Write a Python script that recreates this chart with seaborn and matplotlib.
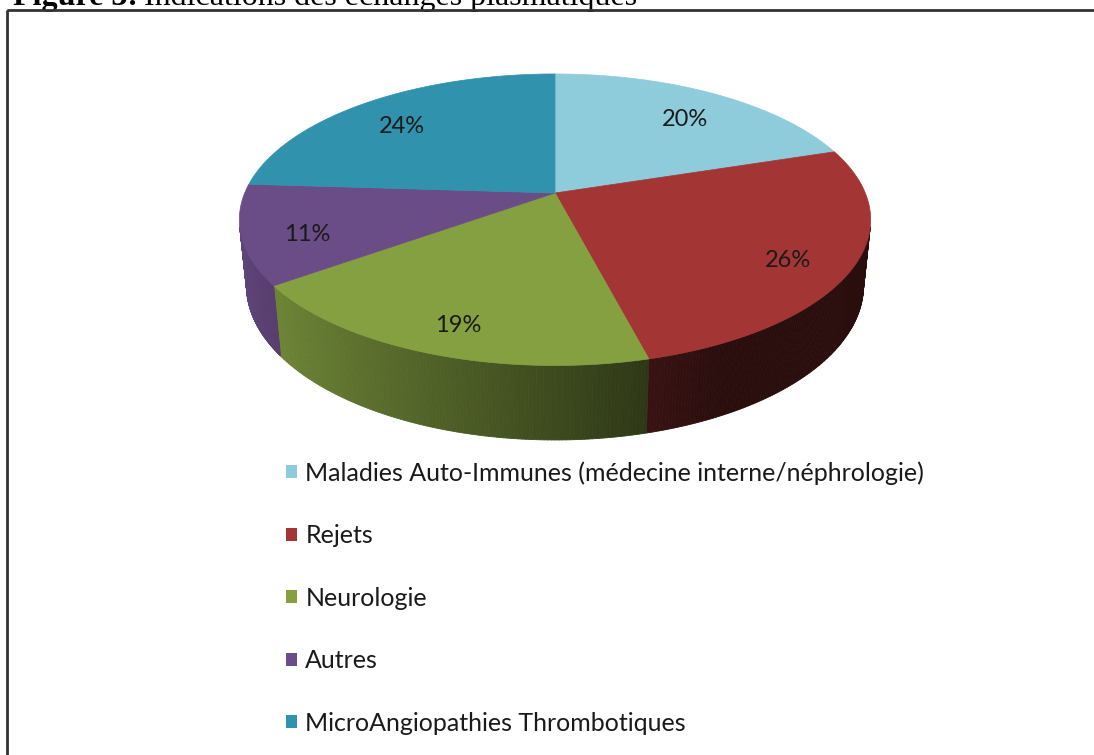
import numpy as np
import seaborn as sns
import matplotlib
matplotlib.use('Agg')
import matplotlib.pyplot as plt
from matplotlib.patches import Patch, Rectangle
from matplotlib.collections import PolyCollection
from matplotlib.colors import to_rgb

# Données du graphique
categories = ['Maladies Auto-Immunes (médecine interne/néphrologie)',
              'Rejets', 'Neurologie', 'Autres',
              'MicroAngiopathies Thrombotiques']
valeurs = [20, 26, 19, 11, 24]
etiquettes = ['20%', '26%', '19%', '11%', '24%']
couleurs = ['#8ecbdb', '#a33535', '#84a041', '#6a4c86', '#3092ac']

sns.set_theme(style="white")
plt.rcParams['font.family'] = ['Lato', 'DejaVu Sans']

fig = plt.figure(figsize=(10.94, 7.55), dpi=100)
ax = fig.add_axes([0, 0, 1, 1])
ax.set_xlim(0, 1094)
ax.set_ylim(755, 0)
ax.axis('off')

# Projection en perspective du camembert 3D
alpha = np.radians(27)
dist = 4.86
foc = 1508
epaisseur = 0.24
cx, cy = 555, 193


def projeter(X, Y, Z):
    v = Y * np.sin(alpha) + Z * np.cos(alpha)
    w = Y * np.cos(alpha) - Z * np.sin(alpha) + dist
    return cx + X * foc / w, cy - v * foc / w


fractions = np.array(valeurs) / np.sum(valeurs)
bornes = 90 - 360 * np.concatenate([[0], np.cumsum(fractions)])

# partie visible du bord : sin(theta) < -1/(dist*cos(alpha))
lim = np.degrees(np.arcsin(1 / (dist * np.cos(alpha))))
vis_min, vis_max = -180 + lim, -lim

# Faces latérales
polys, cols = [], []
for i in range(len(valeurs)):
    debut, fin = bornes[i], bornes[i + 1]
    hi, lo = min(debut, vis_max), max(fin, vis_min)
    if hi <= lo:
        continue
    th = np.radians(np.linspace(hi, lo, 120))
    base = np.array(to_rgb(couleurs[i]))
    for k in range(len(th) - 1):
        a, b = th[k], th[k + 1]
        x1, y1 = projeter(np.cos(a), np.sin(a), 0)
        x2, y2 = projeter(np.cos(b), np.sin(b), 0)
        x3, y3 = projeter(np.cos(b), np.sin(b), -epaisseur)
        x4, y4 = projeter(np.cos(a), np.sin(a), -epaisseur)
        polys.append([(x1, y1), (x2, y2), (x3, y3), (x4, y4)])
        ombre = np.clip(0.46 - 0.45 * np.cos((a + b) / 2), 0.26, 0.9)
        cols.append(base * ombre)
ax.add_collection(PolyCollection(polys, facecolors=cols, edgecolors=cols,
                                 linewidths=0.6, zorder=1))

# Faces supérieures
for i in range(len(valeurs)):
    th = np.radians(np.linspace(bornes[i], bornes[i + 1], 200))
    xs, ys = projeter(np.cos(th), np.sin(th), 0 * th)
    xs = np.concatenate([[cx], xs])
    ys = np.concatenate([[cy], ys])
    ax.fill(xs, ys, facecolor=couleurs[i], edgecolor=couleurs[i],
            linewidth=0.5, zorder=2)

# Étiquettes de pourcentage
for i, lab in enumerate(etiquettes):
    mid = np.radians((bornes[i] + bornes[i + 1]) / 2)
    lx, ly = projeter(0.8 * np.cos(mid), 0.8 * np.sin(mid), -0.03)
    ax.text(lx, ly, lab, ha='center', va='center', fontsize=17,
            color='#1a1a1a', zorder=3)

# Légende
poignees = [Patch(facecolor=c, edgecolor='none', label=n)
            for c, n in zip(couleurs, categories)]
ax.legend(handles=poignees, loc='upper left',
          bbox_to_anchor=(286 / 1094, 1 - 461 / 755), frameon=False,
          fontsize=18, handlelength=0.42, handleheight=0.42,
          handletextpad=0.35, labelspacing=1.58, borderpad=0,
          borderaxespad=0, labelcolor='#1a1a1a')

# Cadre et titre coupé
ax.add_patch(Rectangle((7, 9.5), 1200, 900, fill=False, edgecolor='#333333',
                       linewidth=2, zorder=4))
t1 = ax.text(13, 5.5, 'Figure 3:', fontsize=23, fontweight='bold',
             family=['Liberation Serif', 'DejaVu Serif'], va='baseline',
             ha='left', color='black')
fig.canvas.draw()
bb = t1.get_window_extent()
x_fin = ax.transData.inverted().transform((bb.x1, 0))[0]
ax.text(x_fin + 6, 5.5, 'Indications des échanges plasmatiques', fontsize=23,
        family=['Liberation Serif', 'DejaVu Serif'], va='baseline',
        ha='left', color='black')

plt.savefig('out.png', dpi=100)
